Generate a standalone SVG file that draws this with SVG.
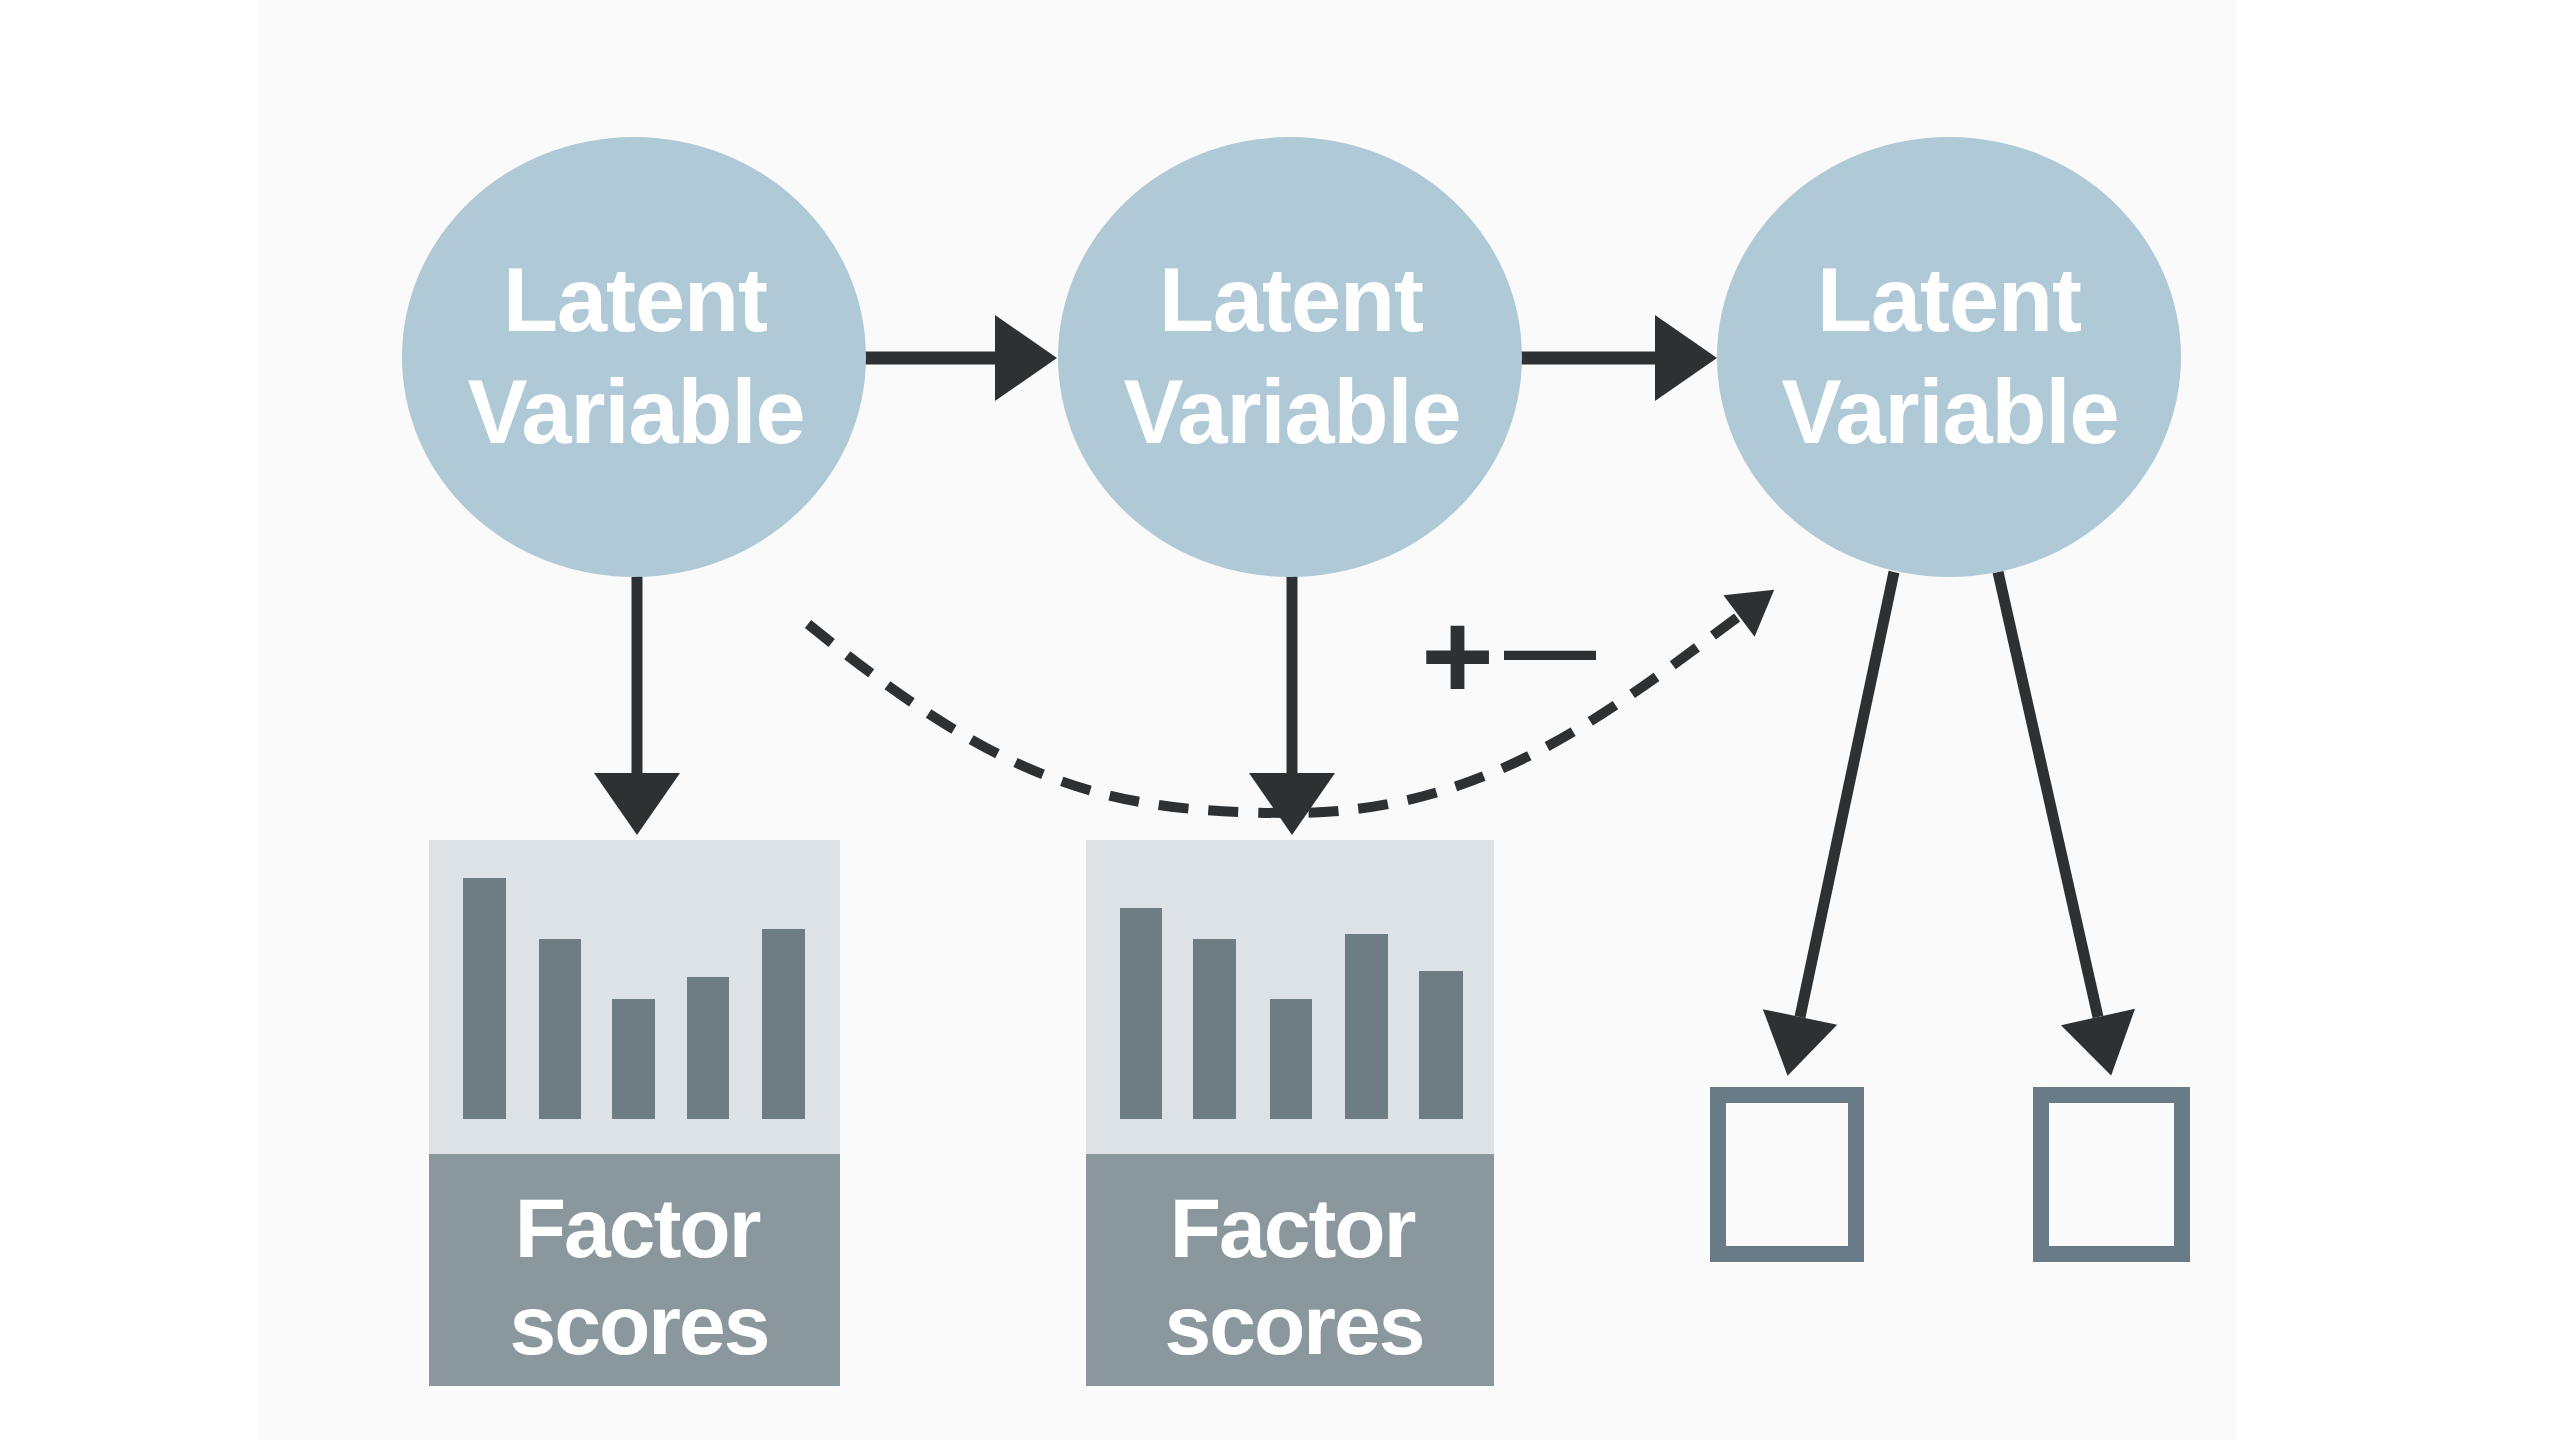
<svg xmlns="http://www.w3.org/2000/svg" width="2560" height="1440" viewBox="0 0 2560 1440">
<style>
.lv{fill:#afc9d6}
.lvt{font-family:"Liberation Sans",Arial,sans-serif;font-weight:700;font-size:90px;letter-spacing:-1px;fill:#ffffff;text-anchor:middle}
.fst{font-family:"Liberation Sans",Arial,sans-serif;font-weight:700;font-size:84px;letter-spacing:-2px;fill:#ffffff;text-anchor:middle}
.top{fill:#dce2e5}
.bot{fill:#8a989e}
.bar{fill:#6e7c83}
.sq{fill:none;stroke:#687b87;stroke-width:16}
.ar{fill:none;stroke:#2e3134;stroke-width:11}
.dash{fill:none;stroke:#2e3134;stroke-width:10;stroke-dasharray:30 20}
.pm{font-family:"Liberation Sans",sans-serif;font-weight:700;fill:#2e3134}
</style>
<defs>
<marker id="ah" markerUnits="userSpaceOnUse" markerWidth="64" markerHeight="86" refX="0" refY="43" orient="auto" overflow="visible"><path d="M0,0 L62,43 L0,86 z" fill="#2e3134"/></marker>
<marker id="ahs" markerUnits="userSpaceOnUse" markerWidth="62" markerHeight="76" refX="0" refY="38" orient="auto" overflow="visible"><path d="M0,0 L60,38 L0,76 z" fill="#2e3134"/></marker>
<marker id="ahd" markerUnits="userSpaceOnUse" markerWidth="46" markerHeight="52" refX="0" refY="26" orient="auto" overflow="visible"><path d="M0,0 L44,26 L0,52 z" fill="#2e3134"/></marker>
</defs>
<rect width="2560" height="1440" fill="#ffffff"/>
<rect x="257" y="0" width="1980" height="1440" fill="#fafafa"/>

<g id="connectors">
<path class="dash" d="M808,624 C1000,780 1100,813 1290,813 C1480,813 1600,720 1739,616" marker-end="url(#ahd)"/>
<path class="ar" style="stroke-width:13" d="M864,358 L995,358" marker-end="url(#ah)"/>
<path class="ar" style="stroke-width:13" d="M1520,358 L1655,358" marker-end="url(#ah)"/>
<path class="ar" d="M637,574 L637,773" marker-end="url(#ah)"/>
<path class="ar" d="M1292,574 L1292,773" marker-end="url(#ah)"/>
<path class="ar" d="M1894,572 L1800,1017" marker-end="url(#ahs)"/>
<path class="ar" d="M1998,572 L2098,1017" marker-end="url(#ahs)"/>
<text class="pm" x="1421" y="699" font-size="125">+<tspan font-size="92" dx="10" dy="-19">—</tspan></text>
</g>

<g id="lv1">
<ellipse class="lv" cx="634" cy="357" rx="232" ry="220"/>
<text class="lvt" x="635" y="331">Latent</text>
<text class="lvt" x="636" y="443">Variable</text>
</g>
<g id="lv2">
<ellipse class="lv" cx="1290" cy="357" rx="232" ry="220"/>
<text class="lvt" x="1291" y="331">Latent</text>
<text class="lvt" x="1292" y="443">Variable</text>
</g>
<g id="lv3">
<ellipse class="lv" cx="1949" cy="357" rx="232" ry="220"/>
<text class="lvt" x="1949" y="331">Latent</text>
<text class="lvt" x="1950" y="443">Variable</text>
</g>

<g id="fs1">
<rect class="top" x="429" y="840" width="411" height="314"/>
<rect class="bot" x="429" y="1154" width="411" height="232"/>
<rect class="bar" x="463" y="878" width="43" height="241"/>
<rect class="bar" x="539" y="939" width="42" height="180"/>
<rect class="bar" x="612" y="999" width="43" height="120"/>
<rect class="bar" x="687" y="977" width="42" height="142"/>
<rect class="bar" x="762" y="929" width="43" height="190"/>
<text class="fst" x="637" y="1257">Factor</text>
<text class="fst" x="639" y="1354">scores</text>
</g>
<g id="fs2">
<rect class="top" x="1086" y="840" width="408" height="314"/>
<rect class="bot" x="1086" y="1154" width="408" height="232"/>
<rect class="bar" x="1120" y="908" width="42" height="211"/>
<rect class="bar" x="1193" y="939" width="43" height="180"/>
<rect class="bar" x="1270" y="999" width="42" height="120"/>
<rect class="bar" x="1345" y="934" width="43" height="185"/>
<rect class="bar" x="1419" y="971" width="44" height="148"/>
<text class="fst" x="1292" y="1257">Factor</text>
<text class="fst" x="1294" y="1354">scores</text>
</g>

<g id="ind1"><rect class="sq" x="1718" y="1095" width="138" height="159"/></g>
<g id="ind2"><rect class="sq" x="2041" y="1095" width="141" height="159"/></g>
</svg>
